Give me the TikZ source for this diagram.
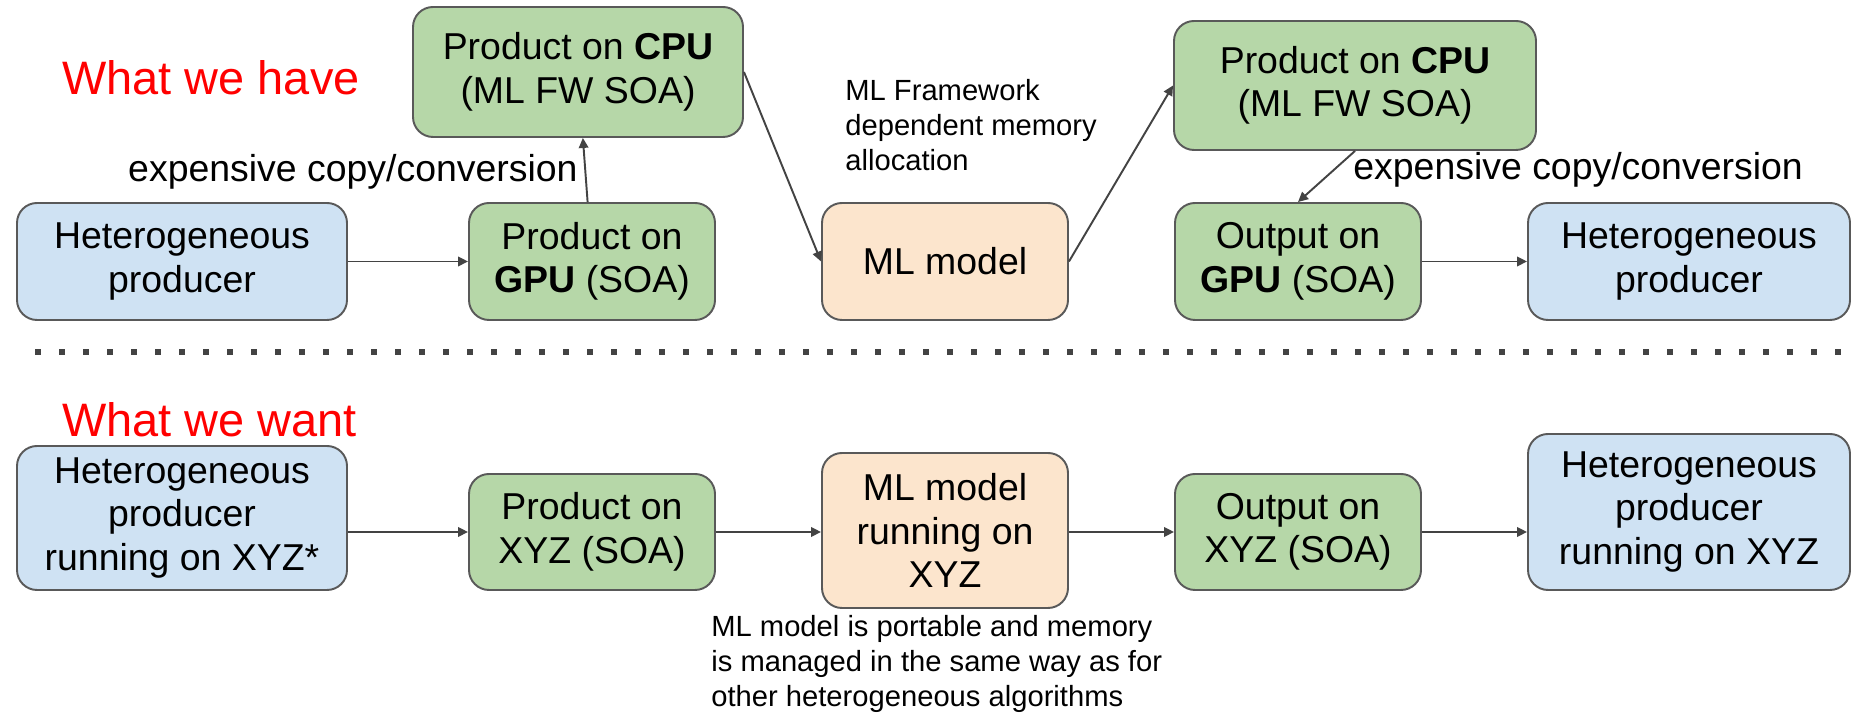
\documentclass[tikz,border=0pt]{standalone}
\usepackage{fontspec}
\setmainfont{Liberation Sans}
\usetikzlibrary{arrows.meta}
\definecolor{hetblue}{HTML}{CFE2F3}
\definecolor{prodgreen}{HTML}{B6D7A8}
\definecolor{mlorange}{HTML}{FCE5CD}
\definecolor{edgegray}{HTML}{595959}
\definecolor{arrowgray}{HTML}{434343}
\tikzset{
	box/.style={draw=edgegray, line width=1.1pt, rounded corners=0.4cm, align=center, inner sep=0pt, font=\fontsize{21.3}{24.8}\selectfont},
	hetbox/.style={box, fill=hetblue},
	prodbox/.style={box, fill=prodgreen},
	mlbox/.style={box, fill=mlorange},
	conn/.style={draw=arrowgray, line width=1.1pt, -{Triangle[length=0.2cm,width=0.19cm]}},
	heading/.style={text=red, inner sep=0pt, font=\fontsize{26.7}{32}\selectfont},
	copynote/.style={inner sep=0pt, font=\fontsize{21.3}{25}\selectfont},
	sidenote/.style={inner sep=0pt, align=left, font=\fontsize{16.6}{19.9}\selectfont}
}

\begin{document}
\begin{tikzpicture}
			%%%%% START %%%%%
			\useasboundingbox (0, 0) rectangle (37.04, 14.3);
			
			% what we have
			\node[heading, anchor=base west] (have) at (1.24, 12.4) {What we have};
			
			\node[hetbox, minimum width=6.6cm, minimum height=2.34cm] (hetA) at (3.64, 9.07) {Heterogeneous\\producer};
			\node[prodbox, minimum width=4.92cm, minimum height=2.34cm] (gpuA) at (11.84, 9.07) {Product on\\\textbf{GPU} (SOA)};
			\node[prodbox, minimum width=6.6cm, minimum height=2.6cm] (cpuA) at (11.56, 12.86) {Product on \textbf{CPU}\\(ML FW SOA)};
			\node[mlbox, minimum width=4.92cm, minimum height=2.34cm] (mlA) at (18.9, 9.07) {ML model};
			\node[prodbox, minimum width=7.24cm, minimum height=2.58cm] (cpuB) at (27.1, 12.59) {Product on \textbf{CPU}\\(ML FW SOA)};
			\node[prodbox, minimum width=4.92cm, minimum height=2.34cm] (outA) at (25.96, 9.07) {Output on\\\textbf{GPU} (SOA)};
			\node[hetbox, minimum width=6.44cm, minimum height=2.34cm] (hetB) at (33.78, 9.07) {Heterogeneous\\producer};
			
			\node[copynote, anchor=base east] (copyA) at (11.56, 10.66) {expensive copy/conversion};
			\node[copynote, anchor=base west] (copyB) at (27.06, 10.7) {expensive copy/conversion};
			\node[sidenote, anchor=north west] (fwnote) at (16.9, 12.72) {ML Framework\\dependent memory\\allocation};
			
			\draw[conn] (hetA.east) -- (gpuA.west);
			\draw[conn] (gpuA) -- (cpuA);
			\draw[conn] (cpuA.east) -- (mlA.west);
			\draw[conn] (mlA.east) -- (cpuB.west);
			\draw[conn] (cpuB.south) -- (outA.north);
			\draw[conn] (outA.east) -- (hetB.west);
			
			% separator
			\draw[arrowgray, line width=0.12cm, dash pattern=on 0.12cm off 0.36cm] (0.7, 7.25) -- (36.9, 7.25);
			
			% what we want
			\node[heading, anchor=base west] (want) at (1.24, 5.56) {What we want};
			
			\node[hetbox, minimum width=6.6cm, minimum height=2.88cm] (hetC) at (3.64, 3.94) {Heterogeneous\\producer\\running on XYZ*};
			\node[prodbox, minimum width=4.92cm, minimum height=2.32cm] (prodC) at (11.84, 3.66) {Product on\\XYZ (SOA)};
			\node[mlbox, minimum width=4.92cm, minimum height=3.1cm] (mlC) at (18.9, 3.69) {ML model\\running on\\XYZ};
			\node[prodbox, minimum width=4.92cm, minimum height=2.32cm] (outC) at (25.96, 3.66) {Output on\\XYZ (SOA)};
			\node[hetbox, minimum width=6.44cm, minimum height=3.12cm] (hetD) at (33.78, 4.06) {Heterogeneous\\producer\\running on XYZ};
			
			\node[sidenote, anchor=north west] (portnote) at (14.22, 2.0) {ML model is portable and memory\\is managed in the same way as for\\other heterogeneous algorithms};
			
			\draw[conn] (hetC.east |- prodC.west) -- (prodC.west);
			\draw[conn] (prodC.east) -- (mlC.west |- prodC.east);
			\draw[conn] (mlC.east |- outC.west) -- (outC.west);
			\draw[conn] (outC.east) -- (hetD.west |- outC.east);
			
			%%%%% END %%%%%
\end{tikzpicture}
\end{document}
